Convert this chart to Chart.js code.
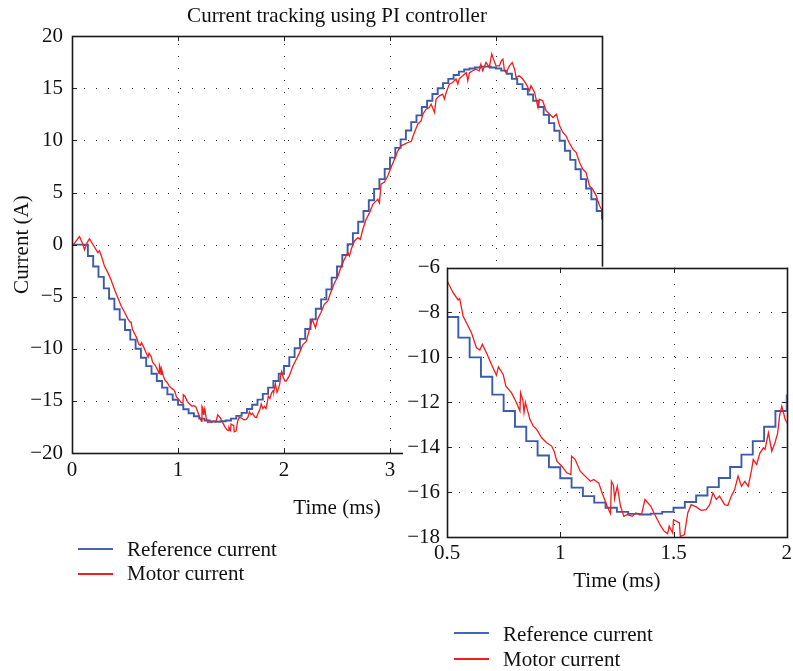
<!DOCTYPE html>
<html>
<head>
<meta charset="utf-8">
<script src="https://cdn.jsdelivr.net/npm/chart.js@4.4.1/dist/chart.umd.min.js"></script>
<style>
html,body{margin:0;padding:0;background:#fff;}
#wrap{position:relative;width:793px;height:671px;overflow:hidden;background:#fff;font-family:"Liberation Serif","Times New Roman",serif;}
canvas{position:absolute;}
#main{left:0;top:0;}
#inset{left:403px;top:248px;}
.lt{position:absolute;font-size:21px;line-height:24px;color:#111;white-space:nowrap;}
.ll{position:absolute;width:35px;}
</style>
</head>
<body>
<div id="wrap">
  <canvas id="main" width="793" height="671"></canvas>
  <canvas id="inset" width="393" height="423"></canvas>
  <div class="ll" style="left:78px;top:548px;height:2px;background:#4a66b0;"></div>
  <div class="lt" style="left:127px;top:537px;">Reference current</div>
  <div class="ll" style="left:78px;top:573px;height:1.5px;background:#f01e1e;"></div>
  <div class="lt" style="left:127px;top:561px;">Motor current</div>
  <div class="ll" style="left:454px;top:632px;height:2px;background:#4a66b0;"></div>
  <div class="lt" style="left:503px;top:622px;">Reference current</div>
  <div class="ll" style="left:454px;top:658px;height:1.5px;background:#f01e1e;"></div>
  <div class="lt" style="left:503px;top:647px;">Motor current</div>
</div>
<script>
// ---- Data ----
const chartTitle = 'Current tracking using PI controller';
const xTitle = 'Time (ms)';
const yTitle = 'Current (A)';
const seriesNames = ['Reference current', 'Motor current'];

// Reference current: sampled (zero-order hold) values, one per 0.05 ms
const refTime = [0,0.05,0.1,0.15,0.2,0.25,0.3,0.35,0.4,0.45,
  0.5,0.55,0.6,0.65,0.7,0.75,0.8,0.85,0.9,0.95,
  1.0,1.05,1.1,1.15,1.2,1.25,1.3,1.35,1.4,1.45,
  1.5,1.55,1.6,1.65,1.7,1.75,1.8,1.85,1.9,1.95,
  2.0,2.05,2.1,2.15,2.2,2.25,2.3,2.35,2.4,2.45,
  2.5,2.55,2.6,2.65,2.7,2.75,2.8,2.85,2.9,2.95,
  3.0,3.05,3.1,3.15,3.2,3.25,3.3,3.35,3.4,3.45,
  3.5,3.55,3.6,3.65,3.7,3.75,3.8,3.85,3.9,3.95,
  4.0,4.05,4.1,4.15,4.2,4.25,4.3,4.35,4.4,4.45,
  4.5,4.55,4.6,4.65,4.7,4.75,4.8,4.85,4.9,4.95,5.0];
const refCurrent = [0,0,0,-1.1,-2.1,-3.1,-4.2,-5.2,-6.2,-7.2,
  -8.2,-9.12,-10.0,-10.86,-11.66,-12.39,-13.09,-13.73,-14.37,-14.89,
  -15.38,-15.8,-16.18,-16.47,-16.7,-16.88,-16.97,-17.0,-16.96,-16.88,
  -16.7,-16.44,-16.15,-15.78,-15.37,-14.88,-14.33,-13.73,-13.09,-12.39,
  -11.65,-10.8,-9.95,-9.05,-8.1,-7.18,-6.15,-5.26,-4.3,-3.17,
  -2.1,-1.0,0.03,1.1,2.2,3.22,4.26,5.35,6.28,7.27,
  8.35,9.28,10.1,10.95,11.75,12.4,13.2,13.8,14.45,15.0,
  15.5,15.9,16.28,16.6,16.8,16.9,17.0,17.08,17.08,17.0,
  16.9,16.7,16.4,15.9,15.4,14.93,14.4,13.8,13.2,12.45,
  11.66,10.92,9.96,9.0,8.13,7.23,6.28,5.38,4.35,3.22,2.4];

// Motor current (measured)
const motorTime = [0.000,0.040,0.071,0.096,0.118,0.143,0.165,0.196,0.228,0.244,
  0.259,0.275,0.306,0.338,0.369,0.401,0.432,0.464,0.497,0.527,
  0.549,0.556,0.571,0.593,0.608,0.630,0.645,0.656,0.674,0.696,
  0.718,0.727,0.748,0.760,0.785,0.807,0.822,0.825,0.835,0.840,
  0.846,0.866,0.880,0.896,0.918,0.940,0.962,0.973,0.985,1.007,
  1.029,1.047,1.050,1.066,1.088,1.110,1.133,1.148,1.170,1.185,
  1.207,1.222,1.226,1.235,1.240,1.245,1.252,1.266,1.281,1.296,
  1.318,1.333,1.355,1.360,1.374,1.400,1.414,1.429,1.444,1.459,
  1.474,1.481,1.496,1.500,1.526,1.530,1.548,1.563,1.578,1.600,
  1.622,1.644,1.660,1.674,1.689,1.703,1.726,1.740,1.755,1.770,
  1.785,1.800,1.815,1.830,1.845,1.852,1.867,1.882,1.897,1.904,
  1.919,1.934,1.948,1.960,1.968,1.978,1.986,1.993,2.010,2.020,
  2.050,2.083,2.115,2.146,2.178,2.210,2.240,2.266,2.297,2.320,
  2.350,2.380,2.414,2.445,2.477,2.510,2.540,2.570,2.602,2.618,
  2.634,2.665,2.697,2.720,2.744,2.775,2.807,2.838,2.870,2.885,
  2.900,2.916,2.948,2.980,3.010,3.042,3.074,3.105,3.137,3.168,
  3.200,3.230,3.262,3.294,3.310,3.340,3.370,3.388,3.420,3.435,
  3.466,3.497,3.514,3.530,3.560,3.590,3.623,3.640,3.655,3.686,
  3.720,3.734,3.750,3.780,3.810,3.843,3.858,3.874,3.906,3.937,
  3.960,3.976,4.000,4.033,4.050,4.065,4.080,4.096,4.127,4.153,
  4.175,4.190,4.220,4.253,4.285,4.316,4.330,4.364,4.396,4.410,
  4.440,4.473,4.505,4.537,4.570,4.600,4.631,4.660,4.690,4.725,
  4.757,4.788,4.820,4.850,4.882,4.914,4.945,4.977,5.000];
const motorCurrent = [-0.2,0.35,0.77,0.19,-0.50,0.19,0.57,0.03,-0.50,-0.77,
  -0.60,-1.03,-2.05,-2.69,-3.40,-4.30,-5.10,-5.90,-6.52,-7.12,
  -7.44,-7.38,-8.16,-8.60,-8.90,-9.57,-9.67,-9.42,-9.79,-10.31,
  -10.80,-10.42,-10.76,-11.28,-11.58,-12.02,-12.39,-11.58,-11.90,-12.45,
  -12.00,-12.76,-13.05,-13.21,-13.58,-13.80,-13.95,-14.18,-14.62,-14.85,
  -15.14,-15.22,-14.40,-14.55,-15.07,-15.29,-15.52,-15.44,-15.60,-16.04,
  -16.63,-16.96,-15.52,-15.70,-16.30,-16.04,-15.74,-16.63,-17.08,-17.00,
  -17.08,-16.93,-17.00,-16.95,-16.33,-16.63,-16.93,-17.23,-17.52,-17.75,
  -17.85,-17.52,-17.82,-17.23,-17.37,-17.97,-17.90,-16.93,-16.56,-16.66,
  -16.81,-16.78,-16.56,-16.04,-16.33,-16.18,-16.56,-16.60,-16.18,-15.89,
  -15.29,-15.74,-15.52,-15.74,-15.00,-14.55,-14.77,-14.25,-14.03,-14.10,
  -13.36,-14.18,-13.80,-13.36,-12.62,-12.17,-12.47,-12.76,-13.10,-13.10,
  -12.60,-11.67,-11.03,-10.39,-9.59,-9.30,-8.14,-7.20,-7.98,-7.10,
  -6.50,-5.73,-5.40,-4.46,-3.66,-3.02,-2.05,-1.41,-0.77,-1.09,
  -0.45,0.35,0.67,0.50,1.47,2.43,3.07,3.87,4.20,4.36,
  4.00,5.80,6.00,6.60,7.40,8.20,9.00,9.48,9.64,9.80,
  9.90,10.76,11.56,11.88,12.52,13.00,13.16,13.48,12.68,13.96,
  14.28,14.44,13.96,14.60,15.40,15.56,15.89,15.40,15.95,16.20,
  16.50,15.73,16.50,16.68,16.84,16.68,17.32,16.68,17.48,17.00,
  18.30,17.80,17.16,17.16,17.64,17.80,16.68,16.50,17.16,17.48,
  16.84,16.04,16.20,15.89,15.40,14.76,15.24,14.60,13.16,13.96,
  13.80,12.84,12.52,12.20,12.52,11.40,10.76,10.44,9.80,9.16,
  8.84,7.88,7.23,6.91,5.63,5.30,4.68,3.72,3.30];

// Tick values
const mainXTicks = [0,1,2,3,4,5];
const mainYTicks = [-20,-15,-10,-5,0,5,10,15,20];
const insetXTicks = [0.5,1,1.5,2];
const insetYTicks = [-18,-16,-14,-12,-10,-8,-6];

// ---- Styling ----
const FONT = {family: '"Liberation Serif","Times New Roman",serif', size: 21};
const BLUE = '#3a5cab';
const RED = '#f21c1c';
const INK = '#111';

const refPts = refTime.map((t, i) => ({x: t, y: refCurrent[i]}));
const motorPts = motorTime.map((t, i) => ({x: t, y: motorCurrent[i]}));

function fmt(v) { return v < 0 ? '\u2212' + String(Math.abs(v)) : String(v); }

function framePlugin(xTicks, yTicks, whiteBg) {
  return {
    id: 'frame',
    beforeDraw(chart) {
      if (!whiteBg) return;
      const {ctx, chartArea: a, width, height} = chart;
      ctx.save();
      ctx.fillStyle = '#fff';
      ctx.fillRect(0, a.top - 1, width, height - a.top + 1);
      ctx.fillRect(0, 0, a.left - 1, a.top);
      ctx.restore();
    },
    beforeDatasetsDraw(chart) {
      const {ctx, chartArea: a, scales: {x, y}} = chart;
      ctx.save();
      ctx.strokeStyle = '#222';
      ctx.lineWidth = 1;
      ctx.setLineDash([1, 11]);
      for (const v of xTicks) {
        const px = Math.round(x.getPixelForValue(v)) + 0.5;
        if (px <= a.left + 2 || px >= a.right - 2) continue;
        ctx.beginPath(); ctx.moveTo(px, a.bottom); ctx.lineTo(px, a.top); ctx.stroke();
      }
      for (const v of yTicks) {
        const py = Math.round(y.getPixelForValue(v)) + 0.5;
        if (py <= a.top + 2 || py >= a.bottom - 2) continue;
        ctx.beginPath(); ctx.moveTo(a.left, py); ctx.lineTo(a.right, py); ctx.stroke();
      }
      ctx.restore();
    },
    afterDatasetsDraw(chart) {
      const {ctx, chartArea: a, scales: {x, y}} = chart;
      ctx.save();
      ctx.setLineDash([]);
      ctx.strokeStyle = '#222';
      ctx.lineWidth = 1;
      const L = 5;
      for (const v of xTicks) {
        const px = Math.round(x.getPixelForValue(v)) + 0.5;
        ctx.beginPath();
        ctx.moveTo(px, a.bottom); ctx.lineTo(px, a.bottom - L);
        ctx.moveTo(px, a.top); ctx.lineTo(px, a.top + L);
        ctx.stroke();
      }
      for (const v of yTicks) {
        const py = Math.round(y.getPixelForValue(v)) + 0.5;
        ctx.beginPath();
        ctx.moveTo(a.left, py); ctx.lineTo(a.left + L, py);
        ctx.moveTo(a.right, py); ctx.lineTo(a.right - L, py);
        ctx.stroke();
      }
      ctx.lineWidth = 1.6;
      ctx.strokeStyle = '#1a1a1a';
      ctx.strokeRect(Math.round(a.left) + 0.5, Math.round(a.top) + 0.5,
        Math.round(a.right - a.left), Math.round(a.bottom - a.top));
      ctx.restore();
    }
  };
}

function datasets() {
  return [
    {label: seriesNames[1], data: motorPts, borderColor: RED, borderWidth: 1.3,
     pointRadius: 0, tension: 0, order: 0},
    {label: seriesNames[0], data: refPts, borderColor: BLUE, borderWidth: 1.9,
     pointRadius: 0, tension: 0, stepped: 'before', order: 1}
  ];
}

// ---- Main chart ----
new Chart(document.getElementById('main'), {
  type: 'line',
  data: {datasets: datasets()},
  options: {
    responsive: false, animation: false, events: [],
    layout: {padding: {left: 0, right: 191, top: 0, bottom: 150}},
    plugins: {
      legend: {display: false}, tooltip: {enabled: false},
      title: {display: true, text: chartTitle, fullSize: false, color: INK,
        font: {...FONT, weight: 'normal'}, padding: {top: 4, bottom: 7}}
    },
    scales: {
      x: {type: 'linear', min: 0, max: 5,
        afterBuildTicks: s => { s.ticks = mainXTicks.map(v => ({value: v})); },
        afterFit: s => { s.height = 68; },
        grid: {display: false, drawTicks: false}, border: {display: false},
        ticks: {color: INK, font: FONT, padding: 5, maxRotation: 0, callback: v => fmt(v)},
        title: {display: true, text: xTitle, color: INK, font: FONT, padding: {top: 0, bottom: 0}}
      },
      y: {type: 'linear', min: -20, max: 20,
        afterBuildTicks: s => { s.ticks = mainYTicks.map(v => ({value: v})); },
        afterFit: s => { s.width = 72; },
        grid: {display: false, drawTicks: false}, border: {display: false},
        ticks: {color: INK, font: FONT, padding: 9, callback: v => fmt(v)},
        title: {display: true, text: yTitle, color: INK, font: FONT, padding: {top: 10, bottom: 0}}
      }
    }
  },
  plugins: [framePlugin(mainXTicks, mainYTicks, false)]
});

// ---- Inset (zoom) chart ----
new Chart(document.getElementById('inset'), {
  type: 'line',
  data: {datasets: datasets()},
  options: {
    responsive: false, animation: false, events: [],
    layout: {padding: {left: 0, right: 3, top: 6, bottom: 77}},
    plugins: {legend: {display: false}, tooltip: {enabled: false}},
    scales: {
      x: {type: 'linear', min: 0.5, max: 2,
        afterBuildTicks: s => { s.ticks = insetXTicks.map(v => ({value: v})); },
        afterFit: s => { s.height = 57; },
        grid: {display: false, drawTicks: false}, border: {display: false},
        ticks: {color: INK, font: FONT, padding: 4, maxRotation: 0, callback: v => fmt(v)},
        title: {display: true, text: xTitle, color: INK, font: FONT, padding: {top: 0, bottom: 0}}
      },
      y: {type: 'linear', min: -18, max: -6,
        afterBuildTicks: s => { s.ticks = insetYTicks.map(v => ({value: v})); },
        afterFit: s => { s.width = 44; },
        grid: {display: false, drawTicks: false}, border: {display: false},
        ticks: {color: INK, font: FONT, padding: 7, callback: v => fmt(v)}
      }
    }
  },
  plugins: [framePlugin(insetXTicks, insetYTicks, true)]
});
</script>
</body>
</html>
